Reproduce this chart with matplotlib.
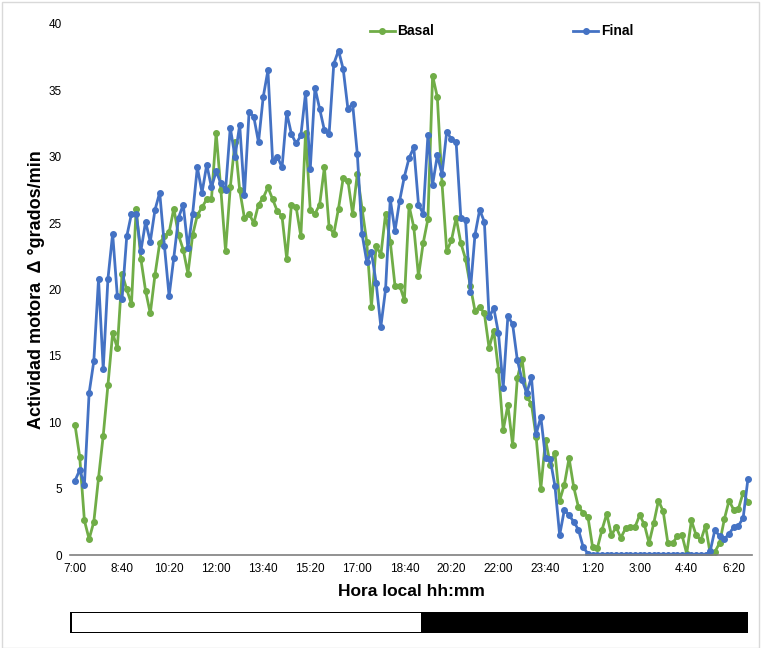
import matplotlib
matplotlib.use('Agg')
import matplotlib.pyplot as plt
import numpy as np
from matplotlib.patches import Rectangle

# 10-min bins from 7:00 to 6:50 next day
tick_labels = ['7:00', '8:40', '10:20', '12:00', '13:40', '15:20', '17:00', '18:40',
               '20:20', '22:00', '23:40', '1:20', '3:00', '4:40', '6:20']

basal = [9.8, 7.4, 2.6, 1.2, 2.5, 5.8, 9.0, 12.8, 16.7, 15.6,
         21.2, 20.0, 18.9, 26.1, 22.3, 19.9, 18.2, 21.1, 23.5, 24.0,
         24.3, 26.1, 24.1, 23.0, 21.2, 24.1, 25.6, 26.2, 26.8, 26.8,
         31.8, 27.5, 22.9, 27.7, 31.1, 27.5, 25.4, 25.7, 25.0, 26.4,
         26.9, 27.7, 26.8, 25.9, 25.5, 22.3, 26.4, 26.2, 24.0, 31.8,
         26.0, 25.7, 26.4, 29.2, 24.7, 24.2, 26.1, 28.4, 28.2, 25.7,
         28.7, 26.1, 23.6, 18.7, 23.3, 22.6, 25.7, 23.6, 20.3, 20.3,
         19.2, 26.3, 24.7, 21.0, 23.5, 25.3, 36.1, 34.5, 28.0, 22.9,
         23.7, 25.4, 23.5, 22.3, 20.3, 18.4, 18.7, 18.2, 15.6, 16.9,
         13.9, 9.4, 11.3, 8.3, 13.3, 14.8, 11.9, 11.4, 8.9, 5.0,
         8.7, 6.8, 7.7, 4.1, 5.3, 7.3, 5.1, 3.6, 3.2, 2.9,
         0.6, 0.5, 1.9, 3.1, 1.5, 2.1, 1.3, 2.0, 2.1, 2.1,
         3.0, 2.3, 0.9, 2.4, 4.1, 3.3, 0.9, 0.9, 1.4, 1.5,
         0.1, 2.6, 1.5, 1.1, 2.2, 0.1, 0.25, 0.9, 2.7, 4.1,
         3.4, 3.5, 4.7, 4.0]

final = [5.6, 6.4, 5.3, 12.2, 14.6, 20.8, 14.0, 20.8, 24.2, 19.5,
         19.3, 24.0, 25.7, 25.7, 22.9, 25.1, 23.6, 26.0, 27.3, 23.3,
         19.5, 22.4, 25.4, 26.4, 23.1, 25.7, 29.2, 27.3, 29.4, 27.7,
         28.9, 28.0, 27.5, 32.2, 30.0, 32.4, 27.1, 33.4, 33.0, 31.1,
         34.5, 36.5, 29.7, 30.0, 29.2, 33.3, 31.7, 31.0, 31.6, 34.8,
         29.1, 35.2, 33.6, 32.0, 31.7, 37.0, 38.0, 36.6, 33.6, 34.0,
         30.2, 24.2, 22.1, 22.8, 20.5, 17.2, 20.0, 26.8, 24.4, 26.7,
         28.5, 29.9, 30.7, 26.4, 25.7, 31.6, 27.9, 30.1, 28.7, 31.9,
         31.3, 31.1, 25.4, 25.2, 19.8, 24.1, 26.0, 25.1, 17.9, 18.6,
         16.7, 12.6, 18.0, 17.4, 14.7, 13.2, 12.2, 13.4, 9.1, 10.4,
         7.3, 7.2, 5.2, 1.5, 3.4, 3.0, 2.5, 1.9, 0.6, 0.1,
         0, 0, 0, 0, 0, 0, 0, 0, 0, 0,
         0, 0, 0, 0, 0, 0, 0, 0, 0, 0,
         0, 0, 0, 0, 0, 0.3, 1.9, 1.4, 1.2, 1.6,
         2.1, 2.2, 2.8, 5.7]

green = '#70AD47'
blue = '#4472C4'

plt.rcParams['font.family'] = ['Liberation Sans', 'DejaVu Sans']

fig = plt.figure(figsize=(7.61, 6.48), dpi=100)
ax = fig.add_axes([0.092, 0.1435, 0.896, 0.8195])

x = np.arange(len(basal))
ax.plot(x, basal, color=green, lw=2, marker='o', ms=4, label='Basal')
ax.plot(x, final, color=blue, lw=2, marker='o', ms=4, label='Final')

ax.set_xlim(-1.06, 143.85)
ax.set_ylim(0, 40)
ax.set_yticks(range(0, 41, 5))
ax.set_xticks(range(0, len(basal), 10))
ax.set_xticklabels(tick_labels)
ax.tick_params(length=0, labelsize=8.5, pad=6)
for s in ['top', 'right', 'left']:
    ax.spines[s].set_visible(False)
ax.spines['bottom'].set_color('#7f7f7f')
ax.spines['bottom'].set_linewidth(1.2)

ax.set_xlabel('Hora local hh:mm', fontsize=12.5, fontweight='bold', labelpad=6)
ax.set_ylabel('Actividad motora  Δ °grados/min', fontsize=13, fontweight='bold')
ax.yaxis.set_label_coords(-0.037, 0.5)

ax.legend(loc='center', bbox_to_anchor=(0.633, 0.986), ncol=2, frameon=False,
          prop={'weight': 'bold', 'size': 10}, columnspacing=10, handlelength=1.8,
          handletextpad=0.2)

# light/dark bar
bar = fig.add_axes([0.092, 0.023, 0.891, 0.033])
bar.set_xlim(0, 1)
bar.set_ylim(0, 1)
bar.axis('off')
bar.add_patch(Rectangle((0, 0), 1, 1, facecolor='black', edgecolor='black', lw=1.5))
bar.add_patch(Rectangle((0.003, 0.06), 0.515, 0.88, facecolor='white', edgecolor='none'))

fig.patches.append(Rectangle((0.002, 0.0), 0.995, 0.997, transform=fig.transFigure,
                             fill=False, edgecolor='#d9d9d9', lw=1))

fig.savefig('out.png', dpi=100)
